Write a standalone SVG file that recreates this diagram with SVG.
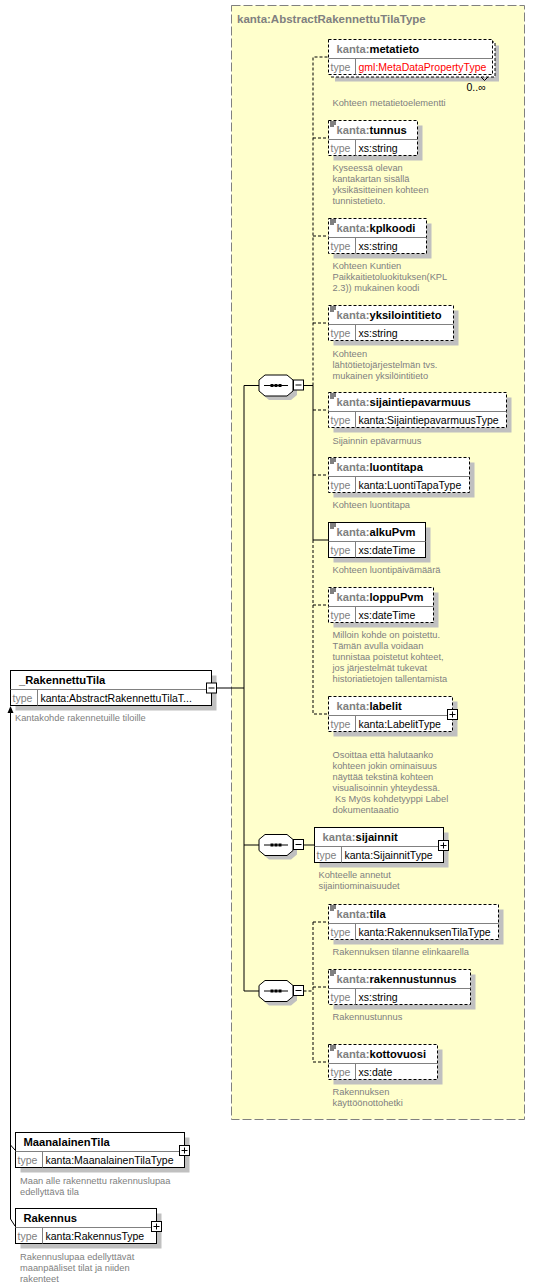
<svg xmlns="http://www.w3.org/2000/svg" width="535" height="1288" viewBox="0 0 535 1288">
<defs>
<style>
text{font-family:"Liberation Sans",Arial,sans-serif}
.nm{font-size:11.2px;font-weight:bold;fill:#000}
.pf{fill:#808080}
.ty{font-size:10.5px;fill:#000}
.tl{font-size:10.5px;fill:#808080}
.ds{font-size:9.3px;fill:#808080}
.tt{font-size:11.5px;font-weight:bold;fill:#808080}
.sh{fill:#c0c0c0}
.bx{fill:#fff;stroke:#000;stroke-width:1}
.op{stroke-dasharray:3,2}
.dv{stroke:#808080;stroke-width:1;fill:none}
.ln{stroke:#000;stroke-width:1;fill:none}
.dl{stroke:#000;stroke-width:1;fill:none;stroke-dasharray:3,2}
.pm{fill:#fff;stroke:#000;stroke-width:1}
</style>
<g id="icon"><path d="M1.5 1.5h6M1.5 3.5h6M1.5 5.5h4" stroke="#000" stroke-width="1" fill="none"/></g>
<g id="octa">
<polygon points="4,5 10,0 32,0 38,5 38,16 32,21 10,21 4,16" class="sh" transform="translate(0,4)"/>
<polygon points="0,5 6,0 28,0 34,5 34,16 28,21 6,21 0,16" fill="#fff" stroke="#000"/>
<path d="M5 10.5H29" stroke="#000"/>
<rect x="11.5" y="9" width="3" height="3" fill="#000"/>
<rect x="15.5" y="9" width="3" height="3" fill="#000"/>
<rect x="19.5" y="9" width="3" height="3" fill="#000"/>
<rect x="34.5" y="5" width="10" height="10" class="pm"/>
<path d="M36.5 10H42.5" stroke="#000"/>
</g>
</defs>
<rect width="535" height="1288" fill="#fff"/>

<g id="container">
<rect x="231.5" y="5.5" width="293" height="1114" fill="#ffffcc" stroke="#808080" stroke-dasharray="9,3"/>
<text x="237" y="23" class="tt">kanta:AbstractRakennettuTilaType</text>
</g>

<g id="connectors">
<path d="M216.5 688H244M244 385.5V991M244 385.5H259M244 845H259M244 991H259" class="ln"/>
<path d="M303.5 385.5H313M313 385.5V540H328.5M303.5 845H314.5" class="ln"/>
<path d="M313 385.5V57H328.5M313 138H328.5M313 236H328.5M313 323H328.5M313 410H328.5M313 475H328.5M313 540V714H328.5M313 605H328.5" class="dl"/>
<path d="M303.5 991H313M313 922V1062H328.5M313 922H328.5M313 987H328.5" class="dl"/>
<path d="M10.5 712V1219L15 1226M10.5 1145L15 1150" class="ln"/>
<polygon points="10.5,706 7.5,713 13.5,713" fill="#000"/>
</g>

<g id="seq1"><use href="#octa" x="259" y="375"/></g>
<g id="seq2"><use href="#octa" x="259" y="834.5"/></g>
<g id="seq3"><use href="#octa" x="259" y="980.5"/></g>

<g id="RakennettuTila">
<rect x="15.5" y="675.5" width="201" height="35" class="sh"/>
<rect x="10.5" y="670.5" width="201" height="35" class="bx"/>
<path d="M10.5 689.5H211.5M37.5 689.5V705.5" class="dv"/>
<text x="19" y="684" class="nm">_RakennettuTila</text>
<text x="12.5" y="701.5" class="tl">type</text>
<text x="40.5" y="701.5" class="ty">kanta:AbstractRakennettuTilaT...</text>
<rect x="206.5" y="683" width="10" height="10" class="pm"/>
<path d="M208.5 688H214.5" stroke="#000"/>
<text x="15" y="721" class="ds">Kantakohde rakennetuille tiloille</text>
</g>

<g id="metatieto">
<rect x="335" y="45.5" width="164" height="36" class="sh"/>
<rect x="331" y="42" width="164" height="35" class="bx op"/>
<rect x="328.5" y="39.5" width="164" height="35" class="bx op"/>
<path d="M328.5 58.5H492.5M355.5 58.5V74.5" class="dv"/>
<path d="M481 77L484.5 80.5L488 77" class="ln"/>
<text x="336.5" y="53" class="nm"><tspan class="pf">kanta:</tspan>metatieto</text>
<text x="330.5" y="70.5" class="tl">type</text>
<text x="358.5" y="70.5" class="ty" fill="#ff0000" style="fill:#ff0000">gml:MetaDataPropertyType</text>
<text x="466.5" y="90.5" class="ty">0..∞</text>
<text x="332.5" y="106" class="ds">Kohteen metatietoelementti</text>
</g>

<g id="tunnus">
<rect x="333.5" y="125.5" width="89" height="35" class="sh"/>
<rect x="328.5" y="120.5" width="89" height="35" class="bx op"/>
<path d="M328.5 139.5H417.5M355.5 139.5V155.5" class="dv"/>
<use href="#icon" x="328.5" y="120.5"/>
<text x="336.5" y="134" class="nm"><tspan class="pf">kanta:</tspan>tunnus</text>
<text x="330.5" y="151.5" class="tl">type</text>
<text x="358.5" y="151.5" class="ty">xs:string</text>
<text class="ds"><tspan x="332.5" y="171">Kyseessä olevan</tspan><tspan x="332.5" y="182">kantakartan sisällä</tspan><tspan x="332.5" y="193">yksikäsitteinen kohteen</tspan><tspan x="332.5" y="204">tunnistetieto.</tspan></text>
</g>

<g id="kplkoodi">
<rect x="333.5" y="223.5" width="98" height="35" class="sh"/>
<rect x="328.5" y="218.5" width="98" height="35" class="bx op"/>
<path d="M328.5 237.5H426.5M355.5 237.5V253.5" class="dv"/>
<use href="#icon" x="328.5" y="218.5"/>
<text x="336.5" y="232" class="nm"><tspan class="pf">kanta:</tspan>kplkoodi</text>
<text x="330.5" y="249.5" class="tl">type</text>
<text x="358.5" y="249.5" class="ty">xs:string</text>
<text class="ds"><tspan x="332.5" y="268.5">Kohteen Kuntien</tspan><tspan x="332.5" y="279.5">Paikkaitietoluokituksen(KPL</tspan><tspan x="332.5" y="290.5">2.3)) mukainen koodi</tspan></text>
</g>

<g id="yksilointitieto">
<rect x="333.5" y="310.5" width="125" height="35" class="sh"/>
<rect x="328.5" y="305.5" width="125" height="35" class="bx op"/>
<path d="M328.5 324.5H453.5M355.5 324.5V340.5" class="dv"/>
<use href="#icon" x="328.5" y="305.5"/>
<text x="336.5" y="319" class="nm"><tspan class="pf">kanta:</tspan>yksilointitieto</text>
<text x="330.5" y="336.5" class="tl">type</text>
<text x="358.5" y="336.5" class="ty">xs:string</text>
<text class="ds"><tspan x="332.5" y="357">Kohteen</tspan><tspan x="332.5" y="368">lähtötietojärjestelmän  tvs.</tspan><tspan x="332.5" y="379">mukainen yksilöintitieto</tspan></text>
</g>

<g id="sijaintiepavarmuus">
<rect x="333.5" y="397.5" width="178" height="35" class="sh"/>
<rect x="328.5" y="392.5" width="178" height="35" class="bx op"/>
<path d="M328.5 411.5H506.5M355.5 411.5V427.5" class="dv"/>
<use href="#icon" x="328.5" y="392.5"/>
<text x="336.5" y="406" class="nm"><tspan class="pf">kanta:</tspan>sijaintiepavarmuus</text>
<text x="330.5" y="423.5" class="tl">type</text>
<text x="358.5" y="423.5" class="ty">kanta:SijaintiepavarmuusType</text>
<text x="332.5" y="443.5" class="ds">Sijainnin epävarmuus</text>
</g>

<g id="luontitapa">
<rect x="333.5" y="462.5" width="141" height="35" class="sh"/>
<rect x="328.5" y="457.5" width="141" height="35" class="bx op"/>
<path d="M328.5 476.5H469.5M355.5 476.5V492.5" class="dv"/>
<use href="#icon" x="328.5" y="457.5"/>
<text x="336.5" y="471" class="nm"><tspan class="pf">kanta:</tspan>luontitapa</text>
<text x="330.5" y="488.5" class="tl">type</text>
<text x="358.5" y="488.5" class="ty">kanta:LuontiTapaType</text>
<text x="332.5" y="508" class="ds">Kohteen luontitapa</text>
</g>

<g id="alkuPvm">
<rect x="333.5" y="527.5" width="97" height="35" class="sh"/>
<rect x="328.5" y="522.5" width="97" height="35" class="bx"/>
<path d="M328.5 541.5H425.5M355.5 541.5V557.5" class="dv"/>
<use href="#icon" x="328.5" y="522.5"/>
<text x="336.5" y="536" class="nm"><tspan class="pf">kanta:</tspan>alkuPvm</text>
<text x="330.5" y="553.5" class="tl">type</text>
<text x="358.5" y="553.5" class="ty">xs:dateTime</text>
<text x="332.5" y="573" class="ds">Kohteen luontipäivämäärä</text>
</g>

<g id="loppuPvm">
<rect x="333.5" y="592.5" width="105" height="35" class="sh"/>
<rect x="328.5" y="587.5" width="105" height="35" class="bx op"/>
<path d="M328.5 606.5H433.5M355.5 606.5V622.5" class="dv"/>
<use href="#icon" x="328.5" y="587.5"/>
<text x="336.5" y="601" class="nm"><tspan class="pf">kanta:</tspan>loppuPvm</text>
<text x="330.5" y="618.5" class="tl">type</text>
<text x="358.5" y="618.5" class="ty">xs:dateTime</text>
<text class="ds"><tspan x="332.5" y="638">Milloin kohde on poistettu.</tspan><tspan x="332.5" y="649">Tämän avulla voidaan</tspan><tspan x="332.5" y="660">tunnistaa poistetut kohteet,</tspan><tspan x="332.5" y="671">jos järjestelmät tukevat</tspan><tspan x="332.5" y="682">historiatietojen tallentamista</tspan></text>
</g>

<g id="labelit">
<rect x="333.5" y="701.5" width="124" height="35" class="sh"/>
<rect x="328.5" y="696.5" width="124" height="35" class="bx op"/>
<path d="M328.5 715.5H452.5M355.5 715.5V731.5" class="dv"/>
<text x="336.5" y="710" class="nm"><tspan class="pf">kanta:</tspan>labelit</text>
<text x="330.5" y="727.5" class="tl">type</text>
<text x="358.5" y="727.5" class="ty">kanta:LabelitType</text>
<rect x="447.5" y="709.5" width="10" height="10" class="pm"/>
<path d="M449.5 714.5H455.5M452.5 711.5V717.5" stroke="#000"/>
<text class="ds"><tspan x="332.5" y="758">Osoittaa että halutaanko</tspan><tspan x="332.5" y="769">kohteen jokin ominaisuus</tspan><tspan x="332.5" y="780">näyttää tekstinä kohteen</tspan><tspan x="332.5" y="791">visualisoinnin yhteydessä.</tspan><tspan x="332.5" y="802" xml:space="preserve"> Ks Myös kohdetyyppi Label</tspan><tspan x="332.5" y="813">dokumentaaatio</tspan></text>
</g>

<g id="sijainnit">
<rect x="319.5" y="832.5" width="129" height="35" class="sh"/>
<rect x="314.5" y="827.5" width="129" height="35" class="bx"/>
<path d="M314.5 846.5H443.5M341.5 846.5V862.5" class="dv"/>
<text x="322.5" y="841" class="nm"><tspan class="pf">kanta:</tspan>sijainnit</text>
<text x="316.5" y="858.5" class="tl">type</text>
<text x="344.5" y="858.5" class="ty">kanta:SijainnitType</text>
<rect x="438.5" y="840.5" width="10" height="10" class="pm"/>
<path d="M440.5 845.5H446.5M443.5 842.5V848.5" stroke="#000"/>
<text class="ds"><tspan x="318.5" y="878">Kohteelle annetut</tspan><tspan x="318.5" y="889">sijaintiominaisuudet</tspan></text>
</g>

<g id="tila">
<rect x="333.5" y="909.5" width="170" height="35" class="sh"/>
<rect x="328.5" y="904.5" width="170" height="35" class="bx op"/>
<path d="M328.5 923.5H498.5M355.5 923.5V939.5" class="dv"/>
<use href="#icon" x="328.5" y="904.5"/>
<text x="336.5" y="918" class="nm"><tspan class="pf">kanta:</tspan>tila</text>
<text x="330.5" y="935.5" class="tl">type</text>
<text x="358.5" y="935.5" class="ty">kanta:RakennuksenTilaType</text>
<text x="332.5" y="954.5" class="ds">Rakennuksen tilanne elinkaarella</text>
</g>

<g id="rakennustunnus">
<rect x="333.5" y="974.5" width="142" height="35" class="sh"/>
<rect x="328.5" y="969.5" width="142" height="35" class="bx op"/>
<path d="M328.5 988.5H470.5M355.5 988.5V1004.5" class="dv"/>
<use href="#icon" x="328.5" y="969.5"/>
<text x="336.5" y="983" class="nm"><tspan class="pf">kanta:</tspan>rakennustunnus</text>
<text x="330.5" y="1000.5" class="tl">type</text>
<text x="358.5" y="1000.5" class="ty">xs:string</text>
<text x="332.5" y="1019.5" class="ds">Rakennustunnus</text>
</g>

<g id="kottovuosi">
<rect x="333.5" y="1049.5" width="109" height="35" class="sh"/>
<rect x="328.5" y="1044.5" width="109" height="35" class="bx op"/>
<path d="M328.5 1063.5H437.5M355.5 1063.5V1079.5" class="dv"/>
<use href="#icon" x="328.5" y="1044.5"/>
<text x="336.5" y="1058" class="nm"><tspan class="pf">kanta:</tspan>kottovuosi</text>
<text x="330.5" y="1075.5" class="tl">type</text>
<text x="358.5" y="1075.5" class="ty">xs:date</text>
<text class="ds"><tspan x="332.5" y="1095">Rakennuksen</tspan><tspan x="332.5" y="1106">käyttöönottohetki</tspan></text>
</g>

<g id="MaanalainenTila">
<rect x="20.5" y="1137.5" width="169" height="35" class="sh"/>
<rect x="15.5" y="1132.5" width="169" height="35" class="bx"/>
<path d="M15.5 1151.5H184.5M42.5 1151.5V1167.5" class="dv"/>
<text x="23.5" y="1146" class="nm">MaanalainenTila</text>
<text x="17.5" y="1163.5" class="tl">type</text>
<text x="45.5" y="1163.5" class="ty">kanta:MaanalainenTilaType</text>
<rect x="179.5" y="1145.5" width="10" height="10" class="pm"/>
<path d="M181.5 1150.5H187.5M184.5 1147.5V1153.5" stroke="#000"/>
<text class="ds"><tspan x="20" y="1184">Maan alle rakennettu rakennuslupaa</tspan><tspan x="20" y="1195">edellyttävä tila</tspan></text>
</g>

<g id="Rakennus">
<rect x="20.5" y="1213.5" width="141" height="35" class="sh"/>
<rect x="15.5" y="1208.5" width="141" height="35" class="bx"/>
<path d="M15.5 1227.5H156.5M42.5 1227.5V1243.5" class="dv"/>
<text x="23.5" y="1222" class="nm">Rakennus</text>
<text x="17.5" y="1239.5" class="tl">type</text>
<text x="45.5" y="1239.5" class="ty">kanta:RakennusType</text>
<rect x="151.5" y="1221.5" width="10" height="10" class="pm"/>
<path d="M153.5 1226.5H159.5M156.5 1223.5V1229.5" stroke="#000"/>
<text class="ds"><tspan x="20" y="1260">Rakennuslupaa edellyttävät</tspan><tspan x="20" y="1271">maanpääliset tilat ja niiden</tspan><tspan x="20" y="1282">rakenteet</tspan></text>
</g>
</svg>
